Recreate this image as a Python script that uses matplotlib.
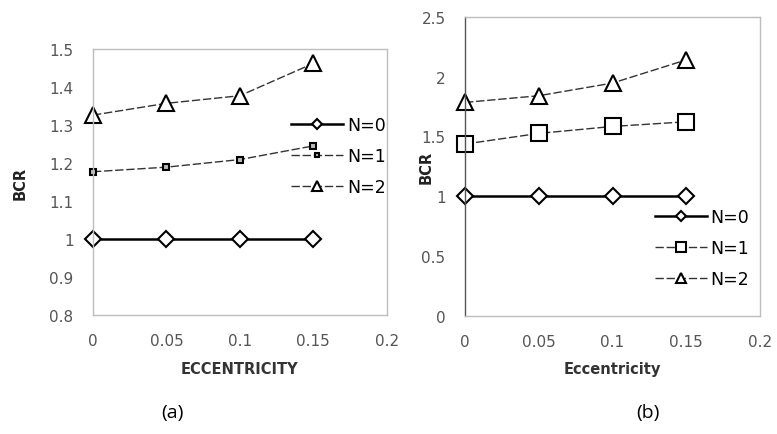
import matplotlib
matplotlib.use("Agg")
import matplotlib.pyplot as plt

# Data
ecc = [0, 0.05, 0.1, 0.15]
labels = ["N=0", "N=1", "N=2"]

# panel (a)
bcr_a_n0 = [1.0, 1.0, 1.0, 1.0]
bcr_a_n1 = [1.177, 1.189, 1.209, 1.245]
bcr_a_n2 = [1.326, 1.357, 1.377, 1.462]

# panel (b)
bcr_b_n0 = [1.0, 1.0, 1.0, 1.0]
bcr_b_n1 = [1.436, 1.525, 1.583, 1.622]
bcr_b_n2 = [1.784, 1.840, 1.946, 2.140]

x_ticks = [0, 0.05, 0.1, 0.15, 0.2]
x_tick_labels = ["0", "0.05", "0.1", "0.15", "0.2"]
y_ticks_a = [0.8, 0.9, 1.0, 1.1, 1.2, 1.3, 1.4, 1.5]
y_tick_labels_a = ["0.8", "0.9", "1", "1.1", "1.2", "1.3", "1.4", "1.5"]
y_ticks_b = [0, 0.5, 1.0, 1.5, 2.0, 2.5]
y_tick_labels_b = ["0", "0.5", "1", "1.5", "2", "2.5"]

plt.rcParams["font.family"] = ["DejaVu Sans"]
TICK_COLOR = "#555555"
SPINE_COLOR = "#bdbdbd"

fig = plt.figure(figsize=(7.77, 4.35), dpi=100)

def decorate(ax, yticks, ylabels, ylim, xlabel):
    ax.set_xlim(0, 0.2)
    ax.set_ylim(*ylim)
    ax.set_xticks(x_ticks)
    ax.set_xticklabels(x_tick_labels)
    ax.set_yticks(yticks)
    ax.set_yticklabels(ylabels)
    ax.tick_params(length=0, labelsize=11, colors=TICK_COLOR)
    ax.tick_params(axis="x", pad=13)
    ax.tick_params(axis="y", pad=14)
    for s in ax.spines.values():
        s.set_color(SPINE_COLOR)
        s.set_linewidth(1.0)
    ax.set_ylabel("BCR", fontsize=10.5, fontweight="bold", color="#222222")
    ax.set_xlabel(xlabel, fontsize=10.5, fontweight="bold", color="#333333",
                  labelpad=9)

def draw(ax, n0, n1, n2, sq_size, sq_face):
    ax.plot(ecc, n0, color="black", lw=1.8, marker="D", ms=8,
            mfc="white", mec="black", mew=1.5, label=labels[0], clip_on=False)
    ax.plot(ecc, n1, color="#333333", lw=1.0, ls=(0, (6, 2)), marker="s", ms=sq_size,
            mfc=sq_face, mec="black", mew=1.5, label=labels[1], clip_on=False)
    ax.plot(ecc, n2, color="#333333", lw=1.0, ls=(0, (6, 2)), marker="^", ms=12,
            mfc="white", mec="black", mew=1.5, label=labels[2], clip_on=False)

legend_kw = dict(frameon=False, fontsize=12.5, handlelength=3.0, handletextpad=0.2,
                 labelspacing=0.75, borderaxespad=0, borderpad=0, markerscale=0.6,
                 bbox_transform=fig.transFigure, loc="upper left")

# Panel (a)
ax1 = fig.add_axes([0.1197, 0.2736, 0.378, 0.6115])
draw(ax1, bcr_a_n0, bcr_a_n1, bcr_a_n2, 5, "#bbbbbb")
decorate(ax1, y_ticks_a, y_tick_labels_a, (0.8, 1.5), "ECCENTRICITY")
ax1.yaxis.set_label_coords(-0.224, 0.5)
ax1.legend(bbox_to_anchor=(0.375, 0.73), **legend_kw)

# Panel (b)
ax2 = fig.add_axes([0.5985, 0.272, 0.3797, 0.687])
draw(ax2, bcr_b_n0, bcr_b_n1, bcr_b_n2, 11, "white")
decorate(ax2, y_ticks_b, y_tick_labels_b, (0, 2.5), "Eccentricity")
ax2.spines["left"].set_color("#555555")
ax2.yaxis.set_label_coords(-0.108, 0.5)
ax2.legend(bbox_to_anchor=(0.843, 0.52), **legend_kw)

fig.text(172 / 777, 1 - 413 / 435, "(a)", ha="center", va="center", fontsize=14,
         family=["Open Sans", "DejaVu Sans"])
fig.text(648 / 777, 1 - 413 / 435, "(b)", ha="center", va="center", fontsize=14,
         family=["Open Sans", "DejaVu Sans"])

fig.savefig("out.png", dpi=100)
